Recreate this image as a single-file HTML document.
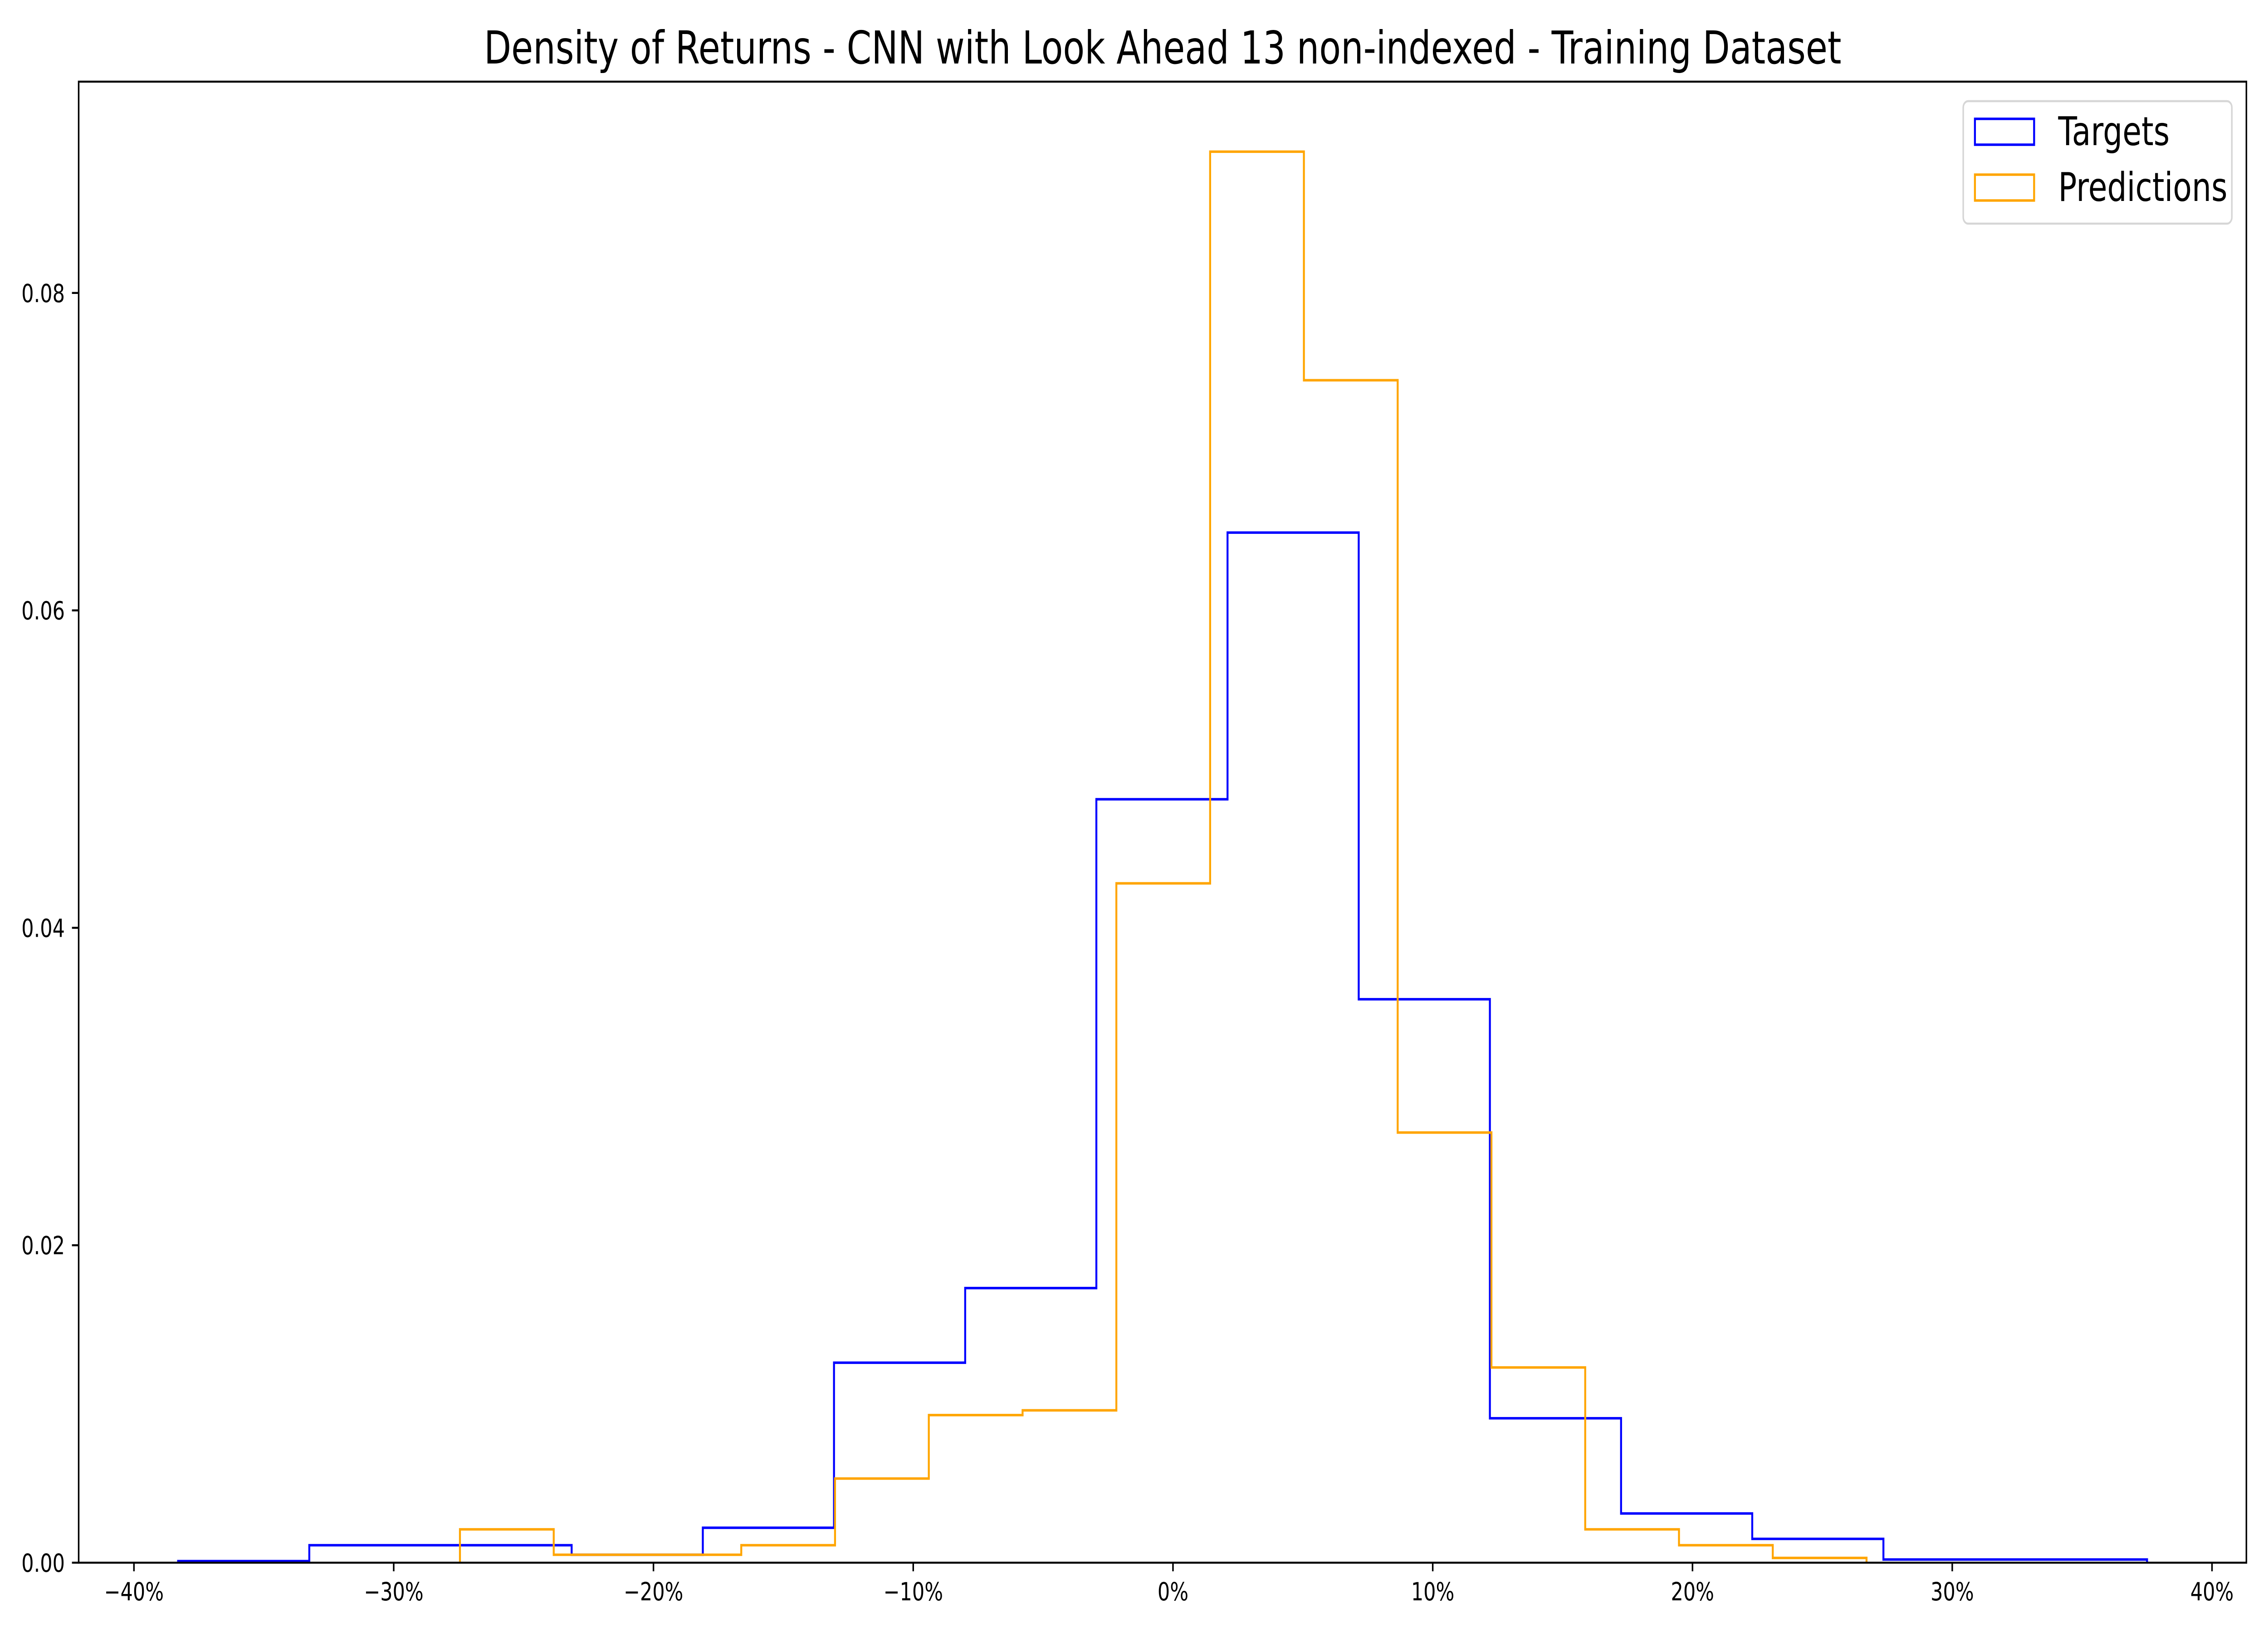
<!DOCTYPE html>
<html><head><meta charset="utf-8">
<style>
html,body{margin:0;padding:0;background:#fff;overflow:hidden;width:100%;height:100%;}
svg{display:block;width:100vw;height:100vh;font-family:"DejaVu Sans","Liberation Sans",sans-serif;}
</style></head>
<body>
<svg id="chart" viewBox="0 0 6400 3600" preserveAspectRatio="none" xmlns="http://www.w3.org/2000/svg">
<rect width="6400" height="3600" fill="#fff"/>
<text x="3281" y="140" font-size="100" text-anchor="middle" fill="#000">Density of Returns - CNN with Look Ahead 13 non-indexed - Training Dataset</text>
<g id="series"></g>
<rect x="222" y="180" width="6117" height="3265" fill="none" stroke="#000" stroke-width="4.4"/>
<g id="ticks"></g>
<g>
<rect x="5540" y="223" width="758" height="270" rx="14" fill="#fff" fill-opacity="0.8" stroke="#d6d6d6" stroke-width="4.4"/>
<g>
<rect x="5573" y="262" width="167" height="57" fill="none" stroke="#0000ff" stroke-width="5.5"/>
<text x="5808" y="320" font-size="87" fill="#000">Targets</text>
</g>
<g>
<rect x="5573" y="385" width="167" height="57" fill="none" stroke="#ffa500" stroke-width="5.5"/>
<text x="5808" y="443" font-size="87" fill="#000">Predictions</text>
</g>
</g>
</svg>
<script>
// data
const targetEdges = [-38.3,-33.25,-28.2,-23.15,-18.1,-13.05,-8.0,-2.95,2.1,7.15,12.2,17.25,22.3,27.35,32.4,37.5];
const targetDensity = [0.0001,0.0011,0.0011,0.0005,0.0022,0.0126,0.0173,0.0481,0.0649,0.0355,0.0091,0.0031,0.0015,0.0002,0.0002];
const predEdges = [-27.45,-23.84,-20.23,-16.62,-13.01,-9.4,-5.79,-2.18,1.43,5.04,8.65,12.26,15.87,19.48,23.09,26.7];
const predDensity = [0.0021,0.0005,0.0005,0.0011,0.0053,0.0093,0.0096,0.0428,0.0889,0.0745,0.0271,0.0123,0.0021,0.0011,0.0003];
const xTicks = [-40,-30,-20,-10,0,10,20,30,40];
const xTickLabels = ["\u221240%","\u221230%","\u221220%","\u221210%","0%","10%","20%","30%","40%"];
const yTicks = [0,0.02,0.04,0.06,0.08];
const yTickLabels = ["0.00","0.02","0.04","0.06","0.08"];

const NS = "http://www.w3.org/2000/svg";
const X0 = 3310, XPER = 73.3;
const Y0 = 3445, YPER = 34990;
function xs(v){ return X0 + v*XPER; }
function ys(v){ return Y0 - v*YPER; }

function stepPath(edges, vals){
  let d = "M" + xs(edges[0]) + "," + ys(0);
  for (let i=0;i<vals.length;i++){
    d += " L" + xs(edges[i]) + "," + ys(vals[i]) + " L" + xs(edges[i+1]) + "," + ys(vals[i]);
  }
  d += " L" + xs(edges[edges.length-1]) + "," + ys(0);
  return d;
}
const series = document.getElementById('series');
const p1 = document.createElementNS(NS,'path');
p1.setAttribute('d', stepPath(targetEdges, targetDensity));
p1.setAttribute('fill','none'); p1.setAttribute('stroke','#0000ff'); p1.setAttribute('stroke-width','5.5');


series.appendChild(p1);
const p2 = document.createElementNS(NS,'path');
p2.setAttribute('d', stepPath(predEdges, predDensity));
p2.setAttribute('fill','none'); p2.setAttribute('stroke','#ffa500'); p2.setAttribute('stroke-width','5.5');


series.appendChild(p2);

const ticks = document.getElementById('ticks');
xTicks.forEach((v,i)=>{
  const x = xs(v);
  const l = document.createElementNS(NS,'line');
  l.setAttribute('x1',x); l.setAttribute('x2',x); l.setAttribute('y1',Y0); l.setAttribute('y2',Y0+19);
  l.setAttribute('stroke','#000'); l.setAttribute('stroke-width','4.4');
  
  
  ticks.appendChild(l);
  const t = document.createElementNS(NS,'text');
  t.setAttribute('x',x); t.setAttribute('y',Y0+83);
  t.setAttribute('font-size','55'); t.setAttribute('text-anchor','middle');
  t.textContent = xTickLabels[i];
  
  
  ticks.appendChild(t);
});
yTicks.forEach((v,i)=>{
  const y = ys(v);
  const l = document.createElementNS(NS,'line');
  l.setAttribute('x1',222); l.setAttribute('x2',203); l.setAttribute('y1',y); l.setAttribute('y2',y);
  l.setAttribute('stroke','#000'); l.setAttribute('stroke-width','4.4');
  
  
  ticks.appendChild(l);
  const t = document.createElementNS(NS,'text');
  t.setAttribute('x',183); t.setAttribute('y',y+20);
  t.setAttribute('font-size','55'); t.setAttribute('text-anchor','end');
  t.textContent = yTickLabels[i];
  
  
  ticks.appendChild(t);
});
</script>
</body></html>
